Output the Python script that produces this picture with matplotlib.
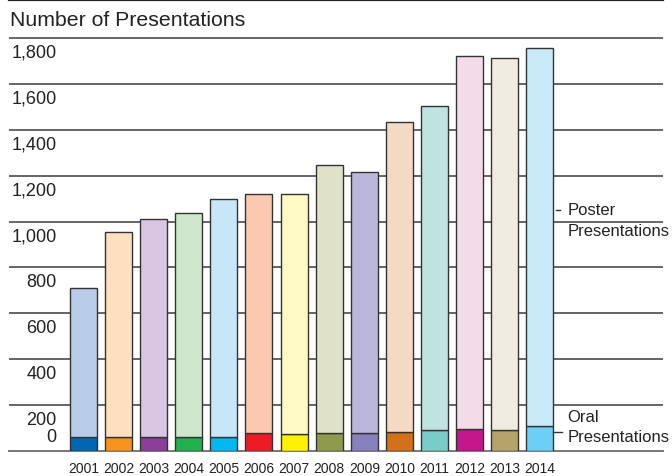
#!/usr/bin/env python3
"""Number of presentations per year: oral + poster, stacked bars."""

import matplotlib
matplotlib.use("Agg")
import matplotlib.pyplot as plt
import numpy as np

# Data
years = ["2001", "2002", "2003", "2004", "2005", "2006", "2007",
         "2008", "2009", "2010", "2011", "2012", "2013", "2014"]
oral = [60, 60, 60, 60, 60, 80, 76, 80, 79, 82, 90, 96, 93, 108]
total = [712, 956, 1009, 1039, 1096, 1118, 1122,
         1245, 1214, 1432, 1502, 1720, 1712, 1755]
poster = [t - o for t, o in zip(total, oral)]

poster_colors = ["#b9cde9", "#fde0bf", "#d8c6e2", "#cde6cc", "#c7e7f8", "#fbc8b0", "#fff9c4",
                 "#dfe1c9", "#bbb6db", "#f4dac4", "#bfe3df", "#f3dce8", "#f0ebe1", "#c8e9f8"]
oral_colors = ["#0068b3", "#f7941d", "#8b3f98", "#22b14c", "#00b9f1", "#ed1c24", "#fff200",
               "#8f9a4d", "#8781bd", "#d2701b", "#7accc8", "#c6168d", "#b4a46a", "#6dcff6"]

y_ticks = [200, 400, 600, 800, 1000, 1200, 1400, 1600, 1800]
y_labels = ["0", "200", "400", "600", "800", "1,000", "1,200", "1,400", "1,600", "1,800"]

plt.rcParams['font.family'] = ['Liberation Sans', 'DejaVu Sans']

fig = plt.figure(figsize=(6.72, 4.76), dpi=100)
# axes: bottom edge at the baseline (y=451px), top edge at the very top line
ax = fig.add_axes([9 / 672, 25 / 476, 654 / 672, 451 / 476])

x = np.arange(len(years))
px_per_unit = 45.9 / 200          # vertical scale of the reference
ytop = 451 / px_per_unit

# gridlines behind the bars
for v in y_ticks:
    ax.axhline(v, color='#4a4a4a', linewidth=1.2, zorder=1)

ax.bar(x, oral, width=0.77, color=oral_colors, edgecolor='#333333',
       linewidth=1.0, zorder=3)
ax.bar(x, poster, bottom=oral, width=0.77, color=poster_colors,
       edgecolor='#333333', linewidth=1.0, zorder=3)

ax.set_xlim(-2.12, 16.51)
ax.set_ylim(0, ytop)

# spines: dark top line, grey baseline
for s in ['left', 'right']:
    ax.spines[s].set_visible(False)
ax.spines['top'].set_color('#222222')
ax.spines['top'].set_linewidth(1.6)
ax.spines['bottom'].set_color('#777777')
ax.spines['bottom'].set_linewidth(1.4)

ax.set_yticks([])
ax.set_xticks(x, years)
ax.tick_params(axis='x', length=0, pad=8, labelsize=10, colors='#222222')

# y labels sit just under their gridline, "0" just above the baseline
label_off = 15 / px_per_unit
label_pos = [14 / px_per_unit] + [v - label_off for v in y_ticks]
for lab, pos in zip(y_labels, label_pos):
    ax.text(-0.77, pos, lab, ha='right', va='center', fontsize=13,
            color='#222222', zorder=4)

# title inside the top band
ax.text(-2.08, ytop - 21 / px_per_unit, "Number of Presentations",
        ha='left', va='center', fontsize=15.3, color='#222222')

# series labels on the right
lx = 13.78
ax.plot([13.45, 13.58], [1050, 1050], color='#333333', lw=1, zorder=4)
ax.text(lx, 1050, "Poster", ha='left', va='center', fontsize=12, color='#222222')
ax.text(lx, 955, "Presentations", ha='left', va='center', fontsize=12,
        color='#222222', clip_on=False)
ax.plot([13.39, 13.62], [84, 84], color='#333333', lw=1, zorder=4)
ax.text(lx, 148, "Oral", ha='left', va='center', fontsize=12, color='#222222')
ax.text(lx, 61, "Presentations", ha='left', va='center', fontsize=12,
        color='#222222', clip_on=False)

fig.savefig('out.png', dpi=100, facecolor='white')
plt.close(fig)
